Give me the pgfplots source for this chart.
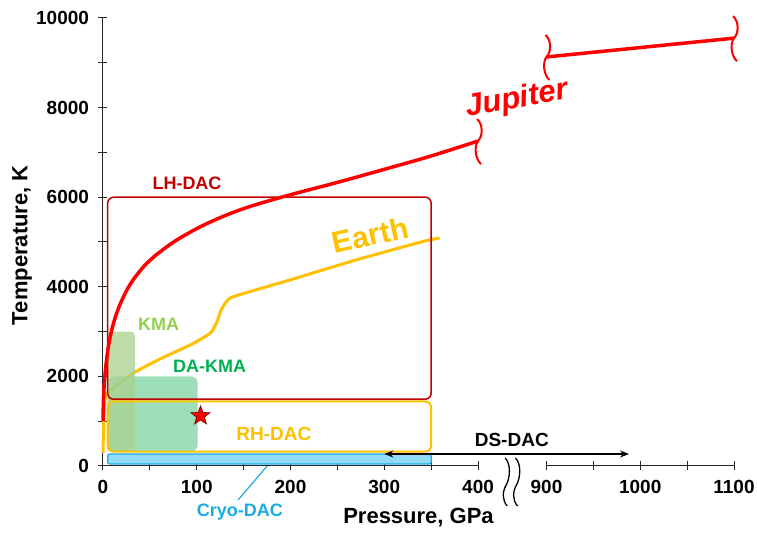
\documentclass[border=0pt]{standalone}
\usepackage{fontspec}
\setmainfont{Liberation Sans}
\usepackage{pgfplots}
\pgfplotsset{compat=1.18}
\usetikzlibrary{arrows.meta}
\definecolor{jup}{HTML}{FF0000}
\definecolor{earth}{HTML}{FFC000}
\definecolor{lh}{HTML}{C00000}
\definecolor{cryo}{HTML}{1AABE6}
\definecolor{cryofill}{HTML}{92DBF7}
\definecolor{kma}{HTML}{A9D18E}
\definecolor{kmatext}{HTML}{92D050}
\definecolor{dakma}{HTML}{5CC88A}
\definecolor{dakmatext}{HTML}{00B050}
\newcommand\fs[1]{\fontsize{#1}{#1}\selectfont}
\pgfdeclareplotmark{fstar}{%
 \pgfpathmoveto{\pgfpointpolar{90}{\pgfplotmarksize}}%
 \pgfpathlineto{\pgfpointpolar{126}{0.42\pgfplotmarksize}}%
 \pgfpathlineto{\pgfpointpolar{162}{\pgfplotmarksize}}%
 \pgfpathlineto{\pgfpointpolar{198}{0.42\pgfplotmarksize}}%
 \pgfpathlineto{\pgfpointpolar{234}{\pgfplotmarksize}}%
 \pgfpathlineto{\pgfpointpolar{270}{0.42\pgfplotmarksize}}%
 \pgfpathlineto{\pgfpointpolar{306}{\pgfplotmarksize}}%
 \pgfpathlineto{\pgfpointpolar{342}{0.42\pgfplotmarksize}}%
 \pgfpathlineto{\pgfpointpolar{18}{\pgfplotmarksize}}%
 \pgfpathlineto{\pgfpointpolar{54}{0.42\pgfplotmarksize}}%
 \pgfpathclose\pgfusepathqfillstroke}
\begin{document}
\begin{tikzpicture}
\path[use as bounding box] (-103pt,-68pt) rectangle (654pt,466pt);
\begin{axis}[
  scale only axis, width=631pt, height=448pt,
  xmin=0, xmax=673, ymin=0, ymax=10000,
  axis x line=bottom, axis y line=left,
  axis line style={-, black!85, line width=1pt},
  x axis line style={draw=none},
  clip=false,
  scaled y ticks=false, scaled x ticks=false,
  xtick={0,50,...,400,473,523,573,623,673},
  xticklabels={0,,100,,200,,300,,400,900,,1000,,1100},
  ytick={0,1000,...,10000},
  yticklabels={0,,2000,,4000,,6000,,8000,,10000},
  tick align=center, major tick length=9pt,
  tick style={black!85, line width=1pt},
  ticklabel style={font=\bfseries\fs{19}},
  xticklabel style={yshift=-6pt},
  yticklabel style={xshift=-6pt},
  /pgf/number format/assume math mode=true,
  xlabel={Pressure, GPa}, ylabel={Temperature, K},
  label style={font=\bfseries\fs{22}},
  xlabel style={at={(axis description cs:0.5,-0.116)}, anchor=center},
  ylabel style={at={(axis description cs:-0.1284,0.493)}, anchor=center},
]
% Earth
\addplot[earth, line width=3pt, line join=round, smooth, tension=0.3] coordinates {
(0,290)(0.8,1000)(2,1450)(4,1620)(9,1700)(32,2070)(60,2380)(93,2700)(105,2840)(112,2930)(116,3000)(121,3190)(126,3480)(131,3650)(139,3780)(199,4150)(270,4600)(341,5010)(359,5090)};
% DA-KMA fill
\addplot[draw=none, fill=dakma, fill opacity=0.6, rounded corners=7pt] coordinates {
(50,320)(101,320)(101,2000)(5,2000)(5,320)(50,320)};
% KMA fill
\addplot[draw=none, fill=kma, fill opacity=0.75, rounded corners=4pt] coordinates {
(20,320)(34,320)(34,3000)(5,3000)(5,320)(20,320)};
% star
\addplot[only marks, mark=fstar, mark size=10pt, mark options={fill=red, draw=red!40!black, line width=0.6pt}] coordinates {(104,1120)};
% LH-DAC
\addplot[lh, line width=1.5pt, rounded corners=6pt] coordinates {
(180,1490)(350,1490)(350,6000)(5,6000)(5,1490)(180,1490)};
% RH-DAC
\addplot[earth, line width=2pt, rounded corners=6pt] coordinates {
(180,320)(350,320)(350,1440)(5,1440)(5,320)(180,320)};
% Cryo-DAC
\addplot[draw=cryo, fill=cryofill, line width=1.2pt, rounded corners=2pt] coordinates {
(180,45)(350,45)(350,270)(5,270)(5,45)(180,45)};
\addplot[cryo, line width=1.2pt] coordinates {(176,22)(144,-759)};
% Jupiter
\addplot[jup, line width=3.5pt, line join=round, smooth, tension=0.5] coordinates {
(0,1000)(0.6,1545)(2,2004)(4,2406)(6,2696)(9.3,3036)(13,3310)(18,3600)(25,3908)(32,4150)(44,4465)(57,4717)(78,5036)(104,5342)(130,5587)(157,5794)(199,6050)(250,6330)(298,6610)(350,6920)(400,7254)};
\addplot[jup, line width=3.5pt] coordinates {(473,9130)(673,9550)};
% DS-DAC arrow
\addplot[black, line width=1.5pt, {Stealth[length=9pt,width=7pt]}-{Stealth[length=9pt,width=7pt]}] coordinates {(300,268)(561,268)};
% x axis segments
\addplot[black!85, line width=1pt] coordinates {(0,0)(400,0)};
\addplot[black!85, line width=1pt] coordinates {(473,0)(673,0)};
% labels
\node[lh, font=\bfseries\fs{18}] at (axis cs:89.6,6310) {LH-DAC};
\node[earth, font=\bfseries\fs{30}, rotate=12] at (axis cs:285,5156) {Earth};
\node[jup, font=\bfseries\itshape\fs{31}, rotate=10] at (axis cs:441.5,8170) {Jupiter};
\node[kmatext, font=\bfseries\fs{18}] at (axis cs:59.3,3170) {KMA};
\node[dakmatext, font=\bfseries\fs{18}] at (axis cs:113.7,2217) {DA-KMA};
\node[earth, font=\bfseries\fs{19}] at (axis cs:182.3,707) {RH-DAC};
\node[black, font=\bfseries\fs{19}] at (axis cs:436,580) {DS-DAC};
\node[cryo, font=\bfseries\fs{18}] at (axis cs:146,-1027) {Cryo-DAC};
\coordinate (b1) at (axis cs:400,7254);
\coordinate (b2) at (axis cs:473,9130);
\coordinate (b3) at (axis cs:673,9550);
\coordinate (x1) at (axis cs:430,0);
\coordinate (x2) at (axis cs:441,0);
\end{axis}
\foreach \c in {b1,b2,b3}
  \draw[jup, line width=2pt, shift={(\c)}] (-1pt,22pt) .. controls (5pt,17pt) and (5pt,5pt) .. (0pt,0pt) .. controls (-4pt,-5pt) and (-3pt,-18pt) .. (3pt,-23pt);
\foreach \c in {x1,x2}
  \draw[black, line width=1.3pt, shift={(\c)}] (-1pt,8pt) .. controls (5pt,2pt) and (4pt,-12pt) .. (0pt,-19pt) .. controls (-4pt,-26pt) and (-4pt,-34pt) .. (1pt,-40pt);
\end{tikzpicture}
\end{document}
